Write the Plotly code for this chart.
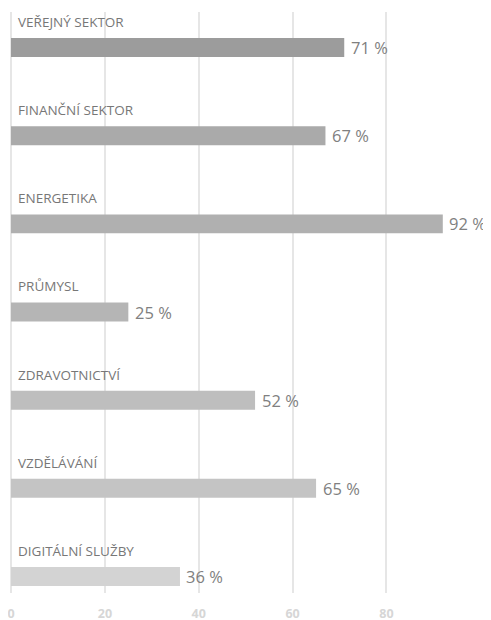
import plotly.graph_objects as go

categories = ["VEŘEJNÝ SEKTOR", "FINANČNÍ SEKTOR", "ENERGETIKA", "PRŮMYSL",
              "ZDRAVOTNICTVÍ", "VZDĚLÁVÁNÍ", "DIGITÁLNÍ SLUŽBY"]
values = [71, 67, 92, 25, 52, 65, 36]
tick_values = [0, 20, 40, 60, 80]
tick_labels = ["0", "20", "40", "60", "80"]

bar_colors = ["#9c9c9c", "#aaaaaa", "#b0b0b0", "#b5b5b5", "#bebebe", "#c4c4c4", "#d3d3d3"]
FONT = "Open Sans"

positions = list(range(len(categories)))

fig = go.Figure()
fig.add_trace(go.Bar(
    x=values, y=positions, orientation="h",
    marker=dict(color=bar_colors, line=dict(width=0)),
    width=0.215, hoverinfo="skip",
))

annotations = []
for pos, cat, val in zip(positions, categories, values):
    annotations.append(dict(
        x=0, y=pos - 0.29, xref="x", yref="y", text=cat, showarrow=False,
        xanchor="left", yanchor="middle", xshift=5,
        font=dict(family=FONT, size=13.5, color="#777777"),
    ))
    annotations.append(dict(
        x=val, y=pos, xref="x", yref="y", text=f"{val} %", showarrow=False,
        xanchor="left", yanchor="middle", xshift=4.5,
        font=dict(family=FONT, size=16.5, color="#808080"),
    ))

# page body has an 8px default margin, so shift the figure's plot area up/left
fig.update_layout(
    width=491, height=620,
    margin=dict(l=2.5, r=20.5, t=4, b=35, pad=0),
    paper_bgcolor="white", plot_bgcolor="white",
    showlegend=False,
    annotations=annotations,
    xaxis=dict(
        range=[0, 99.5], tickvals=tick_values, ticktext=tick_labels,
        showgrid=True, gridcolor="#e6e6e6", gridwidth=2,
        zeroline=True, zerolinecolor="#e6e6e6", zerolinewidth=2,
        showline=False, ticks="", ticklabelstandoff=11, automargin=False,
        ticklabeloverflow="allow",
        tickfont=dict(family=FONT, size=12.5, color="#d6d6d6", weight="bold"),
        fixedrange=True,
    ),
    yaxis=dict(
        range=[6.187, -0.403], showgrid=False, zeroline=False, automargin=False,
        showticklabels=False, ticks="", showline=False, fixedrange=True,
    ),
)

fig.write_html("out.html")
